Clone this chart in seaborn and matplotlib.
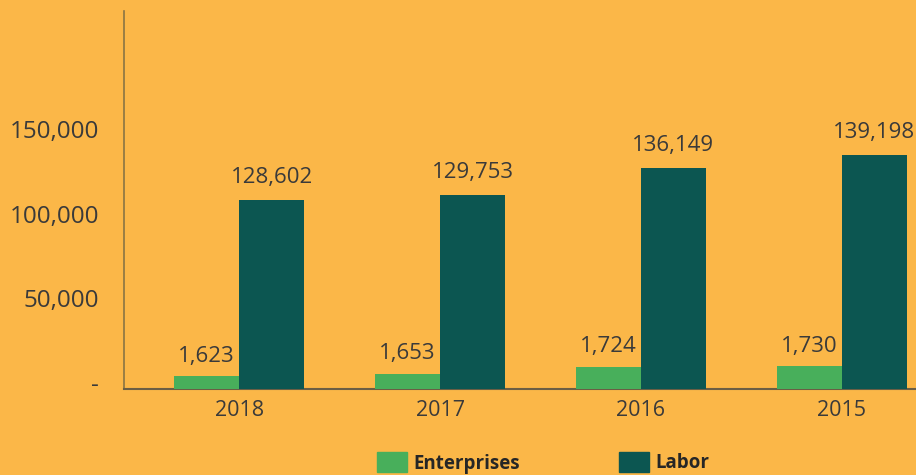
import pandas as pd
import matplotlib.pyplot as plt
import seaborn as sns

years = ["2018", "2017", "2016", "2015"]
enterprises = [1623, 1653, 1724, 1730]
labor = [128602, 129753, 136149, 139198]
series_names = ["Enterprises", "Labor"]
y_ticks = [0, 50000, 100000, 150000]
y_tick_labels = ["-", "50,000", "100,000", "150,000"]

BG = "#fbb748"
TEXT = "#3a3a3a"
colors = {"Enterprises": "#48af5b", "Labor": "#0c5651"}

df = pd.DataFrame({
    "year": years * 2,
    "series": ["Enterprises"] * len(years) + ["Labor"] * len(years),
    "value": enterprises + labor,
})

sns.set_style("white")
plt.rcParams["font.family"] = ["Open Sans", "DejaVu Sans"]

fig = plt.figure(figsize=(9.16, 4.75), dpi=100, facecolor=BG)
ax = fig.add_axes([124 / 916, 1 - 389 / 475, 1 - 124 / 916, (389 - 11) / 475])
ax.set_facecolor(BG)

# each series sits on its own hidden scale, like the source chart
ax_e = ax.twinx()
ax_l = ax.twinx()
for tw, name, pad, lims in [(ax_e, "Enterprises", 7, (1490, 5500)),
                            (ax_l, "Labor", 8.5, (84000, 173000))]:
    sns.barplot(data=df[df["series"] == name], x="year", y="value", hue="series",
                hue_order=series_names, palette=colors, order=years,
                width=0.648, dodge=True, saturation=1, linewidth=0,
                ax=tw, legend=False)
    tw.set_ylim(*lims)
    tw.set_yticks([])
    tw.set_ylabel("")
    for s in tw.spines.values():
        s.set_visible(False)
    for c in tw.containers:
        tw.bar_label(c, labels=[f"{v:,.0f}" for v in c.datavalues],
                     padding=pad, fontsize=16, color=TEXT)

ax.set_xlim(-0.574, 3.37)
ax.set_ylim(-3550, 220000)
ax.set_yticks(y_ticks)
ax.set_yticklabels(y_tick_labels)
ax.set_xticks(range(len(years)))
ax.set_xticklabels(years)
ax.tick_params(axis="y", length=0, pad=18, labelsize=17.5, labelcolor=TEXT)
ax.tick_params(axis="x", length=0, pad=8, labelsize=15.5, labelcolor=TEXT)
ax.set_xlabel("")
ax.set_ylabel("")
for side in ["top", "right"]:
    ax.spines[side].set_visible(False)
ax.spines["left"].set_color("#8a7444")
ax.spines["bottom"].set_color("#6b5e44")
ax.spines["left"].set_linewidth(1.2)
ax.spines["bottom"].set_linewidth(1.5)

handles = [plt.Rectangle((0, 0), 1, 1, color=colors[n]) for n in series_names]
fig.legend(handles, series_names, loc="upper left", bbox_to_anchor=(377 / 916, 1 - 452 / 475),
           ncol=2, frameon=False, borderpad=0, borderaxespad=0, handlelength=1.6,
           handleheight=1.3, handletextpad=0.35, columnspacing=5.25,
           prop={"weight": "bold", "size": 13.5})

fig.savefig("out.png", dpi=100, facecolor=BG)
